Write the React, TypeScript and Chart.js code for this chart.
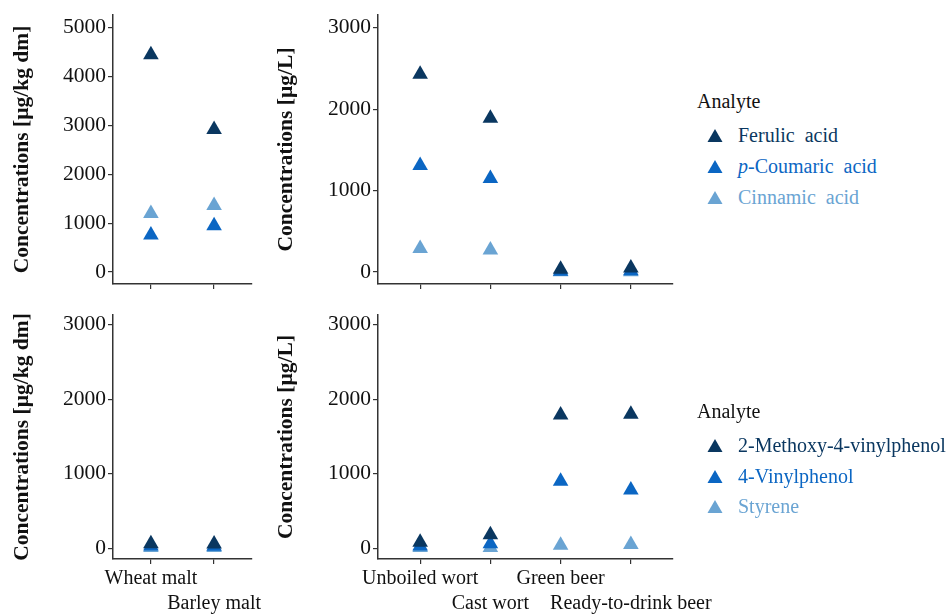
import React, { useEffect, useRef } from "react";
import { Chart, registerables } from "chart.js";

Chart.register(...registerables);

// ---- data ----
const maltCategories = ["Wheat malt", "Barley malt"];
const processCategories = ["Unboiled wort", "Cast wort", "Green beer", "Ready-to-drink beer"];

// hydroxycinnamic acids
const ferulicMalt = [4450, 2920];
const pCoumaricMalt = [760, 950];
const cinnamicMalt = [1200, 1360];
const ferulicProcess = [2430, 1890, 35, 50];
const pCoumaricProcess = [1310, 1150, 10, 15];
const cinnamicProcess = [290, 270, 5, 5];

// vinyl aromatics
const methoxyVinylphenolMalt = [60, 55];
const vinylphenolMalt = [30, 25];
const styreneMalt = [10, 10];
const methoxyVinylphenolProcess = [80, 180, 1790, 1800];
const vinylphenolProcess = [30, 60, 900, 780];
const styreneProcess = [10, 10, 40, 50];

const maltTicks = [0, 1000, 2000, 3000, 4000, 5000];
const commonTicks = [0, 1000, 2000, 3000];

// ---- styling ----
const FONT = "'Liberation Serif', 'Times New Roman', serif";
const DARK = "#0a3760";
const MID = "#0b66c3";
const LIGHT = "#6aa4d3";
const TEXT = "#111111";
const AXIS = "#333333";

type Series = { label: string; color: string; values: number[] };

type PanelProps = {
  left: number;
  top: number;
  width: number;
  height: number;
  area: { left: number; top: number; right: number; bottom: number };
  yMin: number;
  yMax: number;
  yTicks: number[];
  yTitle: string;
  titleOffset: number;
  categories: string[];
  showLabels: boolean;
  series: Series[];
};

function Panel(p: PanelProps) {
  const ref = useRef<HTMLCanvasElement>(null);

  useEffect(() => {
    const canvas = ref.current;
    if (!canvas) return;
    const n = p.categories.length;
    const chart = new Chart(canvas, {
      type: "scatter",
      data: {
        datasets: p.series.map((s) => ({
          label: s.label,
          data: s.values.map((v, i) => ({ x: i + 1, y: v })),
          backgroundColor: s.color,
          borderColor: s.color,
          borderWidth: 0,
          pointStyle: "triangle",
          pointRadius: 9,
          pointHoverRadius: 9,
          showLine: false,
        })),
      },
      options: {
        responsive: false,
        animation: false,
        devicePixelRatio: 1,
        layout: {
          padding: {
            top: p.area.top - p.top,
            right: p.left + p.width - p.area.right,
            bottom: 0,
            left: 0,
          },
        },
        plugins: {
          legend: { display: false },
          tooltip: { enabled: false },
        },
        scales: {
          x: {
            type: "linear",
            position: "bottom",
            min: 0.4,
            max: n + 0.6,
            afterBuildTicks: (axis: any) => {
              axis.ticks = p.categories.map((_, i) => ({ value: i + 1 }));
            },
            afterFit: (axis: any) => {
              axis.height = p.top + p.height - p.area.bottom;
            },
            grid: {
              display: true,
              drawOnChartArea: false,
              drawTicks: true,
              tickLength: 5,
              color: AXIS,
              lineWidth: 1.2,
            },
            border: { display: true, color: AXIS, width: 1.5 },
            ticks: {
              autoSkip: false,
              maxRotation: 0,
              minRotation: 0,
              padding: 2,
              color: TEXT,
              font: { family: FONT, size: 20, lineHeight: 1.25 },
              callback: (value: any) => {
                if (!p.showLabels) return "";
                const idx = Math.round(Number(value)) - 1;
                const label = p.categories[idx] ?? "";
                return idx % 2 === 1 ? ["", label] : label;
              },
            },
          },
          y: {
            type: "linear",
            min: p.yMin,
            max: p.yMax,
            afterBuildTicks: (axis: any) => {
              axis.ticks = p.yTicks.map((v) => ({ value: v }));
            },
            afterFit: (axis: any) => {
              axis.width = p.area.left - p.left;
            },
            grid: {
              display: true,
              drawOnChartArea: false,
              drawTicks: true,
              tickLength: 5,
              color: AXIS,
              lineWidth: 1.2,
            },
            border: { display: true, color: AXIS, width: 1.5 },
            ticks: {
              padding: 2,
              color: TEXT,
              font: { family: FONT, size: 21.5 },
              callback: (value: any) => String(value),
            },
            title: {
              display: true,
              text: p.yTitle,
              color: TEXT,
              font: { family: FONT, size: 21.5, weight: "bold", lineHeight: 1 },
              padding: { top: p.titleOffset, bottom: 0 },
            },
          },
        },
      } as any,
    });
    return () => chart.destroy();
  }, []);

  return (
    <canvas
      ref={ref}
      width={p.width}
      height={p.height}
      style={{
        position: "absolute",
        left: p.left,
        top: p.top,
        width: p.width,
        height: p.height,
      }}
    />
  );
}

function Triangle({ color }: { color: string }) {
  return (
    <svg width="16" height="13" viewBox="0 0 16 13" style={{ display: "block" }}>
      <polygon points="8,0 15.5,13 0.5,13" fill={color} />
    </svg>
  );
}

type LegendEntry = { color: string; content: React.ReactNode };

function Legend({ titleY, rows }: { titleY: number; rows: { y: number; entry: LegendEntry }[] }) {
  const line = 24;
  return (
    <>
      <div
        style={{
          position: "absolute",
          left: 697,
          top: titleY - line / 2,
          height: line,
          lineHeight: `${line}px`,
          fontFamily: FONT,
          fontSize: 20,
          color: TEXT,
          whiteSpace: "nowrap",
        }}
      >
        Analyte
      </div>
      {rows.map((r, i) => (
        <React.Fragment key={i}>
          <div style={{ position: "absolute", left: 707, top: r.y - 6.5 }}>
            <Triangle color={r.entry.color} />
          </div>
          <div
            style={{
              position: "absolute",
              left: 738,
              top: r.y - line / 2,
              height: line,
              lineHeight: `${line}px`,
              fontFamily: FONT,
              fontSize: 20,
              color: r.entry.color,
              whiteSpace: "nowrap",
              wordSpacing: 5,
            }}
          >
            {r.entry.content}
          </div>
        </React.Fragment>
      ))}
    </>
  );
}

export default function App() {
  const acidsMalt: Series[] = [
    { label: "Ferulic acid", color: DARK, values: ferulicMalt },
    { label: "p-Coumaric acid", color: MID, values: pCoumaricMalt },
    { label: "Cinnamic acid", color: LIGHT, values: cinnamicMalt },
  ];
  const acidsProcess: Series[] = [
    { label: "Ferulic acid", color: DARK, values: ferulicProcess },
    { label: "p-Coumaric acid", color: MID, values: pCoumaricProcess },
    { label: "Cinnamic acid", color: LIGHT, values: cinnamicProcess },
  ];
  const vinylMalt: Series[] = [
    { label: "2-Methoxy-4-vinylphenol", color: DARK, values: methoxyVinylphenolMalt },
    { label: "4-Vinylphenol", color: MID, values: vinylphenolMalt },
    { label: "Styrene", color: LIGHT, values: styreneMalt },
  ];
  const vinylProcess: Series[] = [
    { label: "2-Methoxy-4-vinylphenol", color: DARK, values: methoxyVinylphenolProcess },
    { label: "4-Vinylphenol", color: MID, values: vinylphenolProcess },
    { label: "Styrene", color: LIGHT, values: styreneProcess },
  ];

  return (
    <div
      style={{
        position: "fixed",
        left: 0,
        top: 0,
        width: 950,
        height: 615,
        background: "#ffffff",
        overflow: "hidden",
      }}
    >
      <Panel
        left={0}
        top={0}
        width={270}
        height={300}
        area={{ left: 113, top: 14, right: 252, bottom: 284 }}
        yMin={-245}
        yMax={5265}
        yTicks={maltTicks}
        yTitle="Concentrations [µg/kg dm]"
        titleOffset={12}
        categories={maltCategories}
        showLabels={false}
        series={acidsMalt}
      />
      <Panel
        left={266}
        top={0}
        width={427}
        height={300}
        area={{ left: 378, top: 14, right: 673, bottom: 284 }}
        yMin={-147}
        yMax={3159}
        yTicks={commonTicks}
        yTitle="Concentrations [µg/L]"
        titleOffset={10}
        categories={processCategories}
        showLabels={false}
        series={acidsProcess}
      />
      <Panel
        left={0}
        top={300}
        width={275}
        height={315}
        area={{ left: 113, top: 312, right: 252, bottom: 559 }}
        yMin={-146}
        yMax={3133}
        yTicks={commonTicks}
        yTitle="Concentrations [µg/kg dm]"
        titleOffset={12}
        categories={maltCategories}
        showLabels={true}
        series={vinylMalt}
      />
      <Panel
        left={266}
        top={300}
        width={470}
        height={315}
        area={{ left: 378, top: 312, right: 673, bottom: 559 }}
        yMin={-146}
        yMax={3133}
        yTicks={commonTicks}
        yTitle="Concentrations [µg/L]"
        titleOffset={10}
        categories={processCategories}
        showLabels={true}
        series={vinylProcess}
      />
      <Legend
        titleY={101}
        rows={[
          { y: 135, entry: { color: DARK, content: "Ferulic acid" } },
          {
            y: 166,
            entry: {
              color: MID,
              content: (
                <>
                  <i>p</i>-Coumaric acid
                </>
              ),
            },
          },
          { y: 197, entry: { color: LIGHT, content: "Cinnamic acid" } },
        ]}
      />
      <Legend
        titleY={411}
        rows={[
          { y: 445, entry: { color: DARK, content: "2-Methoxy-4-vinylphenol" } },
          { y: 476, entry: { color: MID, content: "4-Vinylphenol" } },
          { y: 506, entry: { color: LIGHT, content: "Styrene" } },
        ]}
      />
    </div>
  );
}
